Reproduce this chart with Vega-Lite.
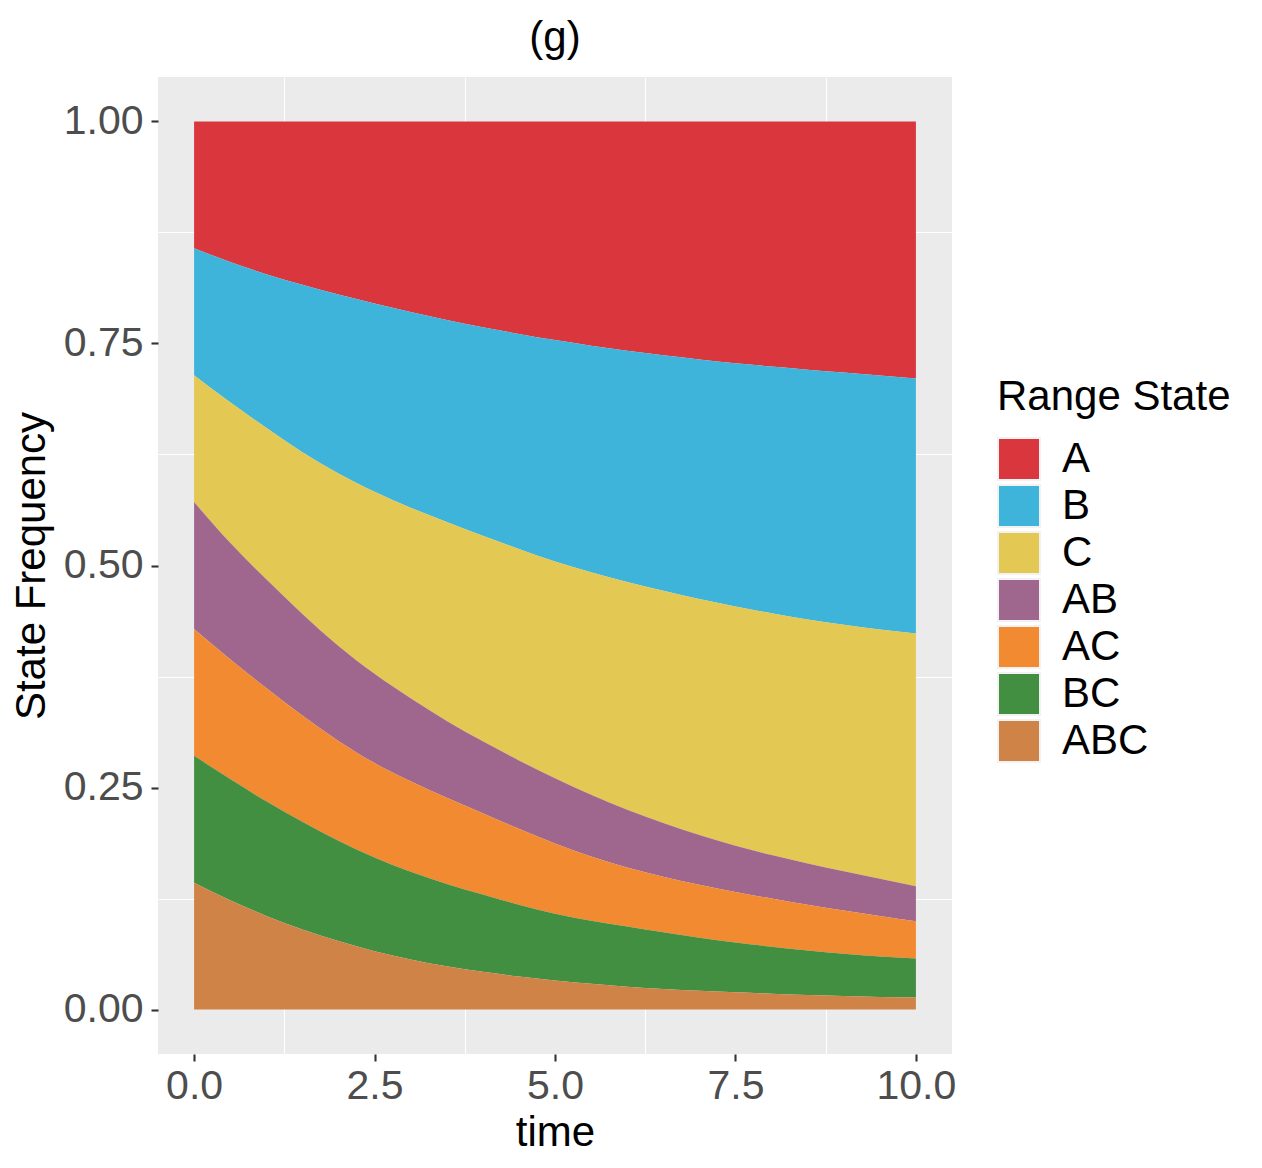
{
  "$schema": "https://vega.github.io/schema/vega-lite/v6.json",
  "width": 794,
  "height": 977,
  "autosize": {"type": "none"},
  "padding": {"left": 158, "top": 77, "right": 310, "bottom": 114},
  "background": "white",
  "title": {"text": "(g)", "font": "Liberation Sans", "fontSize": 42, "fontWeight": "normal", "color": "black", "anchor": "middle", "frame": "group", "offset": 17},
  "config": {
    "view": {"fill": "#EBEBEB", "stroke": null},
    "axis": {
      "domain": false, "grid": true, "gridColor": "white",
      "tickColor": "#333333", "tickWidth": 2.1, "tickSize": 7,
      "labelFont": "Liberation Sans", "labelFontSize": 41, "labelColor": "#4D4D4D", "labelFlush": false,
      "titleFont": "Liberation Sans", "titleFontSize": 42, "titleFontWeight": "normal", "titleColor": "black"
    },
    "legend": {
      "labelFont": "Liberation Sans", "titleFont": "Liberation Sans"
    }
  },
  "data": {"values": [
    {"time":0,"state":"A","freq":0.1428},{"time":0,"state":"B","freq":0.1429},{"time":0,"state":"C","freq":0.1429},{"time":0,"state":"AB","freq":0.1428},{"time":0,"state":"AC","freq":0.1429},{"time":0,"state":"BC","freq":0.1428},{"time":0,"state":"ABC","freq":0.1429},
    {"time":0.5,"state":"A","freq":0.1582},{"time":0.5,"state":"B","freq":0.1581},{"time":0.5,"state":"C","freq":0.1582},{"time":0.5,"state":"AB","freq":0.1311},{"time":0.5,"state":"AC","freq":0.1349},{"time":0.5,"state":"BC","freq":0.1363},{"time":0.5,"state":"ABC","freq":0.1232},
    {"time":1,"state":"A","freq":0.1720},{"time":1,"state":"B","freq":0.1730},{"time":1,"state":"C","freq":0.1705},{"time":1,"state":"AB","freq":0.1225},{"time":1,"state":"AC","freq":0.1275},{"time":1,"state":"BC","freq":0.1290},{"time":1,"state":"ABC","freq":0.1055},
    {"time":1.5,"state":"A","freq":0.1840},{"time":1.5,"state":"B","freq":0.1885},{"time":1.5,"state":"C","freq":0.1820},{"time":1.5,"state":"AB","freq":0.1145},{"time":1.5,"state":"AC","freq":0.1195},{"time":1.5,"state":"BC","freq":0.1213},{"time":1.5,"state":"ABC","freq":0.0902},
    {"time":2,"state":"A","freq":0.1948},{"time":2,"state":"B","freq":0.2017},{"time":2,"state":"C","freq":0.1940},{"time":2,"state":"AB","freq":0.1070},{"time":2,"state":"AC","freq":0.1125},{"time":2,"state":"BC","freq":0.1128},{"time":2,"state":"ABC","freq":0.0772},
    {"time":2.5,"state":"A","freq":0.2050},{"time":2.5,"state":"B","freq":0.2120},{"time":2.5,"state":"C","freq":0.2050},{"time":2.5,"state":"AB","freq":0.1005},{"time":2.5,"state":"AC","freq":0.1063},{"time":2.5,"state":"BC","freq":0.1054},{"time":2.5,"state":"ABC","freq":0.0658},
    {"time":3,"state":"A","freq":0.2145},{"time":3,"state":"B","freq":0.2205},{"time":3,"state":"C","freq":0.2145},{"time":3,"state":"AB","freq":0.0935},{"time":3,"state":"AC","freq":0.1018},{"time":3,"state":"BC","freq":0.0987},{"time":3,"state":"ABC","freq":0.0565},
    {"time":3.5,"state":"A","freq":0.2235},{"time":3.5,"state":"B","freq":0.2275},{"time":3.5,"state":"C","freq":0.2240},{"time":3.5,"state":"AB","freq":0.0865},{"time":3.5,"state":"AC","freq":0.0970},{"time":3.5,"state":"BC","freq":0.0928},{"time":3.5,"state":"ABC","freq":0.0487},
    {"time":4,"state":"A","freq":0.2317},{"time":4,"state":"B","freq":0.2348},{"time":4,"state":"C","freq":0.2315},{"time":4,"state":"AB","freq":0.0810},{"time":4,"state":"AC","freq":0.0915},{"time":4,"state":"BC","freq":0.0870},{"time":4,"state":"ABC","freq":0.0425},
    {"time":4.5,"state":"A","freq":0.2393},{"time":4.5,"state":"B","freq":0.2422},{"time":4.5,"state":"C","freq":0.2380},{"time":4.5,"state":"AB","freq":0.0770},{"time":4.5,"state":"AC","freq":0.0855},{"time":4.5,"state":"BC","freq":0.0808},{"time":4.5,"state":"ABC","freq":0.0372},
    {"time":5,"state":"A","freq":0.2462},{"time":5,"state":"B","freq":0.2493},{"time":5,"state":"C","freq":0.2440},{"time":5,"state":"AB","freq":0.0735},{"time":5,"state":"AC","freq":0.0790},{"time":5,"state":"BC","freq":0.0752},{"time":5,"state":"ABC","freq":0.0328},
    {"time":5.5,"state":"A","freq":0.2525},{"time":5.5,"state":"B","freq":0.2550},{"time":5.5,"state":"C","freq":0.2505},{"time":5.5,"state":"AB","freq":0.0695},{"time":5.5,"state":"AC","freq":0.0725},{"time":5.5,"state":"BC","freq":0.0710},{"time":5.5,"state":"ABC","freq":0.0290},
    {"time":6,"state":"A","freq":0.2582},{"time":6,"state":"B","freq":0.2603},{"time":6,"state":"C","freq":0.2565},{"time":6,"state":"AB","freq":0.0650},{"time":6,"state":"AC","freq":0.0665},{"time":6,"state":"BC","freq":0.0677},{"time":6,"state":"ABC","freq":0.0258},
    {"time":6.5,"state":"A","freq":0.2634},{"time":6.5,"state":"B","freq":0.2651},{"time":6.5,"state":"C","freq":0.2615},{"time":6.5,"state":"AB","freq":0.0605},{"time":6.5,"state":"AC","freq":0.0625},{"time":6.5,"state":"BC","freq":0.0638},{"time":6.5,"state":"ABC","freq":0.0232},
    {"time":7,"state":"A","freq":0.2680},{"time":7,"state":"B","freq":0.2698},{"time":7,"state":"C","freq":0.2657},{"time":7,"state":"AB","freq":0.0560},{"time":7,"state":"AC","freq":0.0595},{"time":7,"state":"BC","freq":0.0599},{"time":7,"state":"ABC","freq":0.0211},
    {"time":7.5,"state":"A","freq":0.2722},{"time":7.5,"state":"B","freq":0.2740},{"time":7.5,"state":"C","freq":0.2693},{"time":7.5,"state":"AB","freq":0.0520},{"time":7.5,"state":"AC","freq":0.0569},{"time":7.5,"state":"BC","freq":0.0562},{"time":7.5,"state":"ABC","freq":0.0194},
    {"time":8,"state":"A","freq":0.2760},{"time":8,"state":"B","freq":0.2778},{"time":8,"state":"C","freq":0.2722},{"time":8,"state":"AB","freq":0.0490},{"time":8,"state":"AC","freq":0.0542},{"time":8,"state":"BC","freq":0.0529},{"time":8,"state":"ABC","freq":0.0179},
    {"time":8.5,"state":"A","freq":0.2795},{"time":8.5,"state":"B","freq":0.2812},{"time":8.5,"state":"C","freq":0.2748},{"time":8.5,"state":"AB","freq":0.0465},{"time":8.5,"state":"AC","freq":0.0514},{"time":8.5,"state":"BC","freq":0.0501},{"time":8.5,"state":"ABC","freq":0.0165},
    {"time":9,"state":"A","freq":0.2828},{"time":9,"state":"B","freq":0.2840},{"time":9,"state":"C","freq":0.2774},{"time":9,"state":"AB","freq":0.0443},{"time":9,"state":"AC","freq":0.0487},{"time":9,"state":"BC","freq":0.0475},{"time":9,"state":"ABC","freq":0.0153},
    {"time":9.5,"state":"A","freq":0.2862},{"time":9.5,"state":"B","freq":0.2859},{"time":9.5,"state":"C","freq":0.2806},{"time":9.5,"state":"AB","freq":0.0418},{"time":9.5,"state":"AC","freq":0.0458},{"time":9.5,"state":"BC","freq":0.0454},{"time":9.5,"state":"ABC","freq":0.0143},
    {"time":10,"state":"A","freq":0.2894},{"time":10,"state":"B","freq":0.2872},{"time":10,"state":"C","freq":0.2845},{"time":10,"state":"AB","freq":0.0394},{"time":10,"state":"AC","freq":0.0421},{"time":10,"state":"BC","freq":0.0439},{"time":10,"state":"ABC","freq":0.0135}
  ]},
  "transform": [
    {"calculate": "indexof(['A','B','C','AB','AC','BC','ABC'], datum.state)", "as": "ord"}
  ],
  "layer": [
    {
      "mark": {"type": "point", "opacity": 0},
      "encoding": {
        "x": {"field": "time", "type": "quantitative", "scale": {"domain": [-0.5, 10.5], "nice": false, "zero": false},
              "axis": {"orient": "top", "values": [1.25, 3.75, 6.25, 8.75], "grid": true, "gridWidth": 1.1, "labels": false, "ticks": false, "domain": false, "title": null}},
        "y": {"field": "freq", "type": "quantitative", "scale": {"domain": [-0.05, 1.05], "nice": false, "zero": false},
              "axis": {"orient": "right", "values": [0.125, 0.375, 0.625, 0.875], "grid": true, "gridWidth": 1.1, "labels": false, "ticks": false, "domain": false, "title": null}}
      }
    },
    {
      "mark": {"type": "area", "interpolate": "monotone"},
      "encoding": {
        "x": {"field": "time", "type": "quantitative",
              "axis": {"orient": "bottom", "values": [0, 2.5, 5, 7.5, 10], "format": ".1f", "gridWidth": 2.2,
                       "labelPadding": 37, "labelBaseline": "alphabetic",
                       "title": "time", "titleX": 397, "titleY": 91, "titleAlign": "center", "titleBaseline": "alphabetic"}},
        "y": {"field": "freq", "type": "quantitative", "stack": "zero",
              "axis": {"orient": "left", "values": [0, 0.25, 0.5, 0.75, 1], "format": ".2f", "gridWidth": 2.2,
                       "labelPadding": 8,
                       "title": "State Frequency", "titleX": -114, "titleY": 488.5, "titleAngle": 270, "titleAlign": "center", "titleBaseline": "alphabetic"}},
        "color": {"field": "state", "type": "nominal",
                  "scale": {"domain": ["A", "B", "C", "AB", "AC", "BC", "ABC"],
                            "range": ["#D9363E", "#3EB4DB", "#E3C854", "#9F678E", "#F28A32", "#438F42", "#D08347"]},
                  "legend": {"title": "Range State", "orient": "none", "legendX": 839, "legendY": 300, "direction": "vertical",
                             "titleFontSize": 42, "titleFontWeight": "normal", "titleColor": "black", "titlePadding": 18, "titleLimit": 600,
                             "labelFontSize": 42, "labelColor": "black", "labelOffset": 21, "labelLimit": 400,
                             "symbolType": "square", "symbolSize": 1764, "symbolStrokeColor": "#F2F2F2", "symbolStrokeWidth": 2, "symbolOpacity": 1,
                             "rowPadding": -4}},
        "order": {"field": "ord", "type": "quantitative", "sort": "descending"}
      }
    }
  ],
  "resolve": {"axis": {"x": "independent", "y": "independent"}}
}
